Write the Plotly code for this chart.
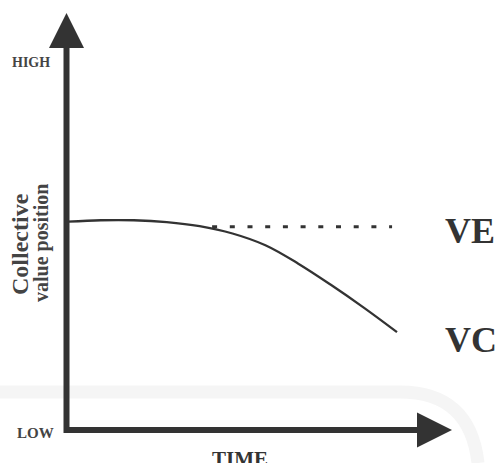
import plotly.graph_objects as go

# ---- data ----
time_vals = [0, 1, 2, 3, 4, 5, 6, 7, 8, 9, 10]
vc_vals = [56.6, 57.0, 57.0, 56.5, 55.4, 53.4, 50.2, 45.2, 39.4, 33.2, 26.6]
ve_time = [4.38, 9.85]
ve_vals = [55.2, 55.2]
axis_labels = ["HIGH", "LOW", "TIME"]
series_labels = ["VE", "VC"]
y_title = ["Collective", "value position"]

W, H = 496, 463
INK = "#333333"
SERIF = "Liberation Serif, Times New Roman, serif"

def px(x):
    return x / W

def py(y):
    return 1 - y / H

fig = go.Figure()

fig.add_trace(go.Scatter(x=time_vals, y=vc_vals, mode="lines",
                         line=dict(color=INK, width=2.3, shape="spline", smoothing=1.0),
                         hoverinfo="skip", showlegend=False))
fig.add_trace(go.Scatter(x=ve_time, y=ve_vals, mode="lines",
                         line=dict(color=INK, width=3, dash="5px,12.7px"),
                         hoverinfo="skip", showlegend=False))

shapes = []
# faint watermark band
shapes.append(dict(type="path", xref="paper", yref="paper",
                   path=f"M {px(0)},{py(392)} L {px(400)},{py(392)} Q {px(470)},{py(392)} {px(478)},{py(463)}",
                   line=dict(color="#f5f5f5", width=13), layer="below"))
# axes
shapes.append(dict(type="path", xref="paper", yref="paper",
                   path=f"M {px(66.5)},{py(45)} L {px(66.5)},{py(430)} L {px(420)},{py(430)}",
                   line=dict(color=INK, width=6)))
# arrow heads
shapes.append(dict(type="path", xref="paper", yref="paper",
                   path=f"M {px(66.5)},{py(13)} L {px(84)},{py(48)} L {px(49)},{py(48)} Z",
                   fillcolor=INK, line=dict(color=INK, width=0)))
shapes.append(dict(type="path", xref="paper", yref="paper",
                   path=f"M {px(452)},{py(430)} L {px(417)},{py(447.5)} L {px(417)},{py(412.5)} Z",
                   fillcolor=INK, line=dict(color=INK, width=0)))

def ann(text, x, y, size, xanchor="center", yanchor="middle", angle=0, color=INK):
    return dict(text=f"<b>{text}</b>", x=px(x), y=py(y), xref="paper", yref="paper",
                showarrow=False, xanchor=xanchor, yanchor=yanchor, textangle=angle,
                font=dict(family=SERIF, size=size, color=color))

annotations = [
    ann(axis_labels[0], 31, 62, 14, color="#444444"),
    ann(axis_labels[1], 35.5, 432.5, 15, color="#444444"),
    ann(axis_labels[2], 240, 445, 21, yanchor="top"),
    ann(y_title[0], 20, 244, 24, angle=-90, color="#444444"),
    ann(y_title[1], 41, 243, 20, angle=-90, color="#444444"),
    ann(series_labels[0], 443, 231, 36, xanchor="left"),
    ann(series_labels[1], 443, 340, 36, xanchor="left"),
]

fig.update_layout(
    width=W, height=H,
    margin=dict(l=0, r=0, t=0, b=0),
    paper_bgcolor="white", plot_bgcolor="white",
    xaxis=dict(range=[-68 / 32.9, (W - 68) / 32.9], visible=False, fixedrange=True),
    yaxis=dict(range=[(430 - H) / 3.68, 430 / 3.68], visible=False, fixedrange=True),
    shapes=shapes, annotations=annotations,
)

fig.write_html("out.html", config={"displayModeBar": False},
               post_script="document.body.style.margin='0';document.body.style.overflow='hidden';")
